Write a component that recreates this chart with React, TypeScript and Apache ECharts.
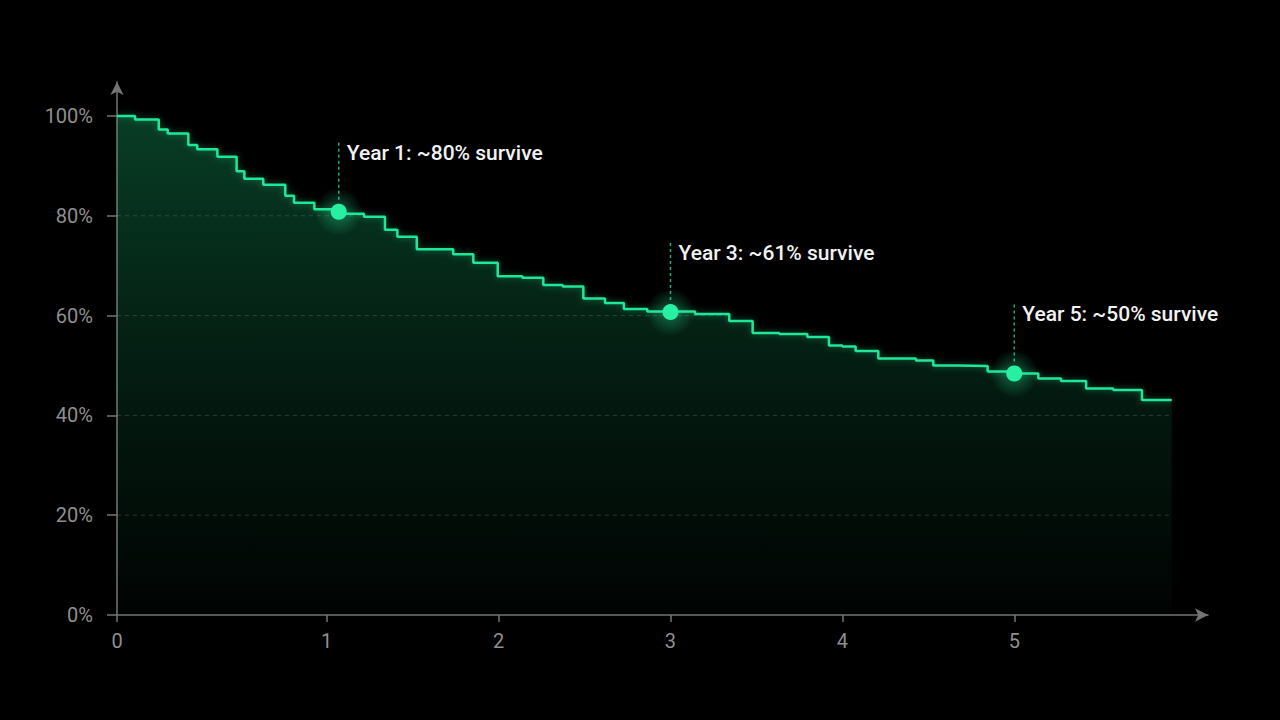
import { useEffect, useRef } from 'react';
import * as echarts from 'echarts';

// Kaplan-Meier style survival steps (time in years, survival in %)
const stepTimes = [
  -0.22, -0.115, 0.023, 0.075, 0.195, 0.247, 0.364, 0.476, 0.521, 0.631,
  0.759, 0.81, 0.928, 1.066, 1.217, 1.339, 1.411, 1.524, 1.736, 1.853,
  1.995, 2.138, 2.26, 2.373, 2.493, 2.619, 2.729, 2.865, 3.143, 3.342,
  3.478, 3.633, 3.796, 3.922, 4.0, 4.077, 4.209, 4.428, 4.529, 4.674,
  4.845, 4.998, 5.14, 5.272, 5.418, 5.576, 5.743,
];
const survival = [
  100, 99.3, 97.3, 96.5, 94.2, 93.3, 91.8, 88.9, 87.4, 86.2,
  84.0, 82.6, 81.3, 80.4, 79.8, 77.2, 75.8, 73.3, 72.3, 70.6,
  67.9, 67.6, 66.1, 65.8, 63.4, 62.5, 61.3, 60.8, 60.3, 58.9,
  56.5, 56.3, 55.7, 54.0, 53.8, 52.9, 51.4, 51.0, 50.0, 49.9,
  48.8, 48.4, 47.4, 46.9, 45.4, 45.1, 43.1,
];
const lastTime = 5.916;

const xMin = -0.22;
const xMax = 6.127;
const xTickValues = [xMin, 1, 2, 3, 4, 5];
const yTickValues = [0, 20, 40, 60, 80, 100];
const gridLevels = [20, 40, 60, 80];

const noteYears = [1.07, 3.0, 5.0];
const noteSurvival = [80.8, 60.7, 48.4];
const noteTexts = ['Year 1: ~80% survive', 'Year 3: ~61% survive', 'Year 5: ~50% survive'];

const GREEN = '#1fe898';
const AXIS = '#747474';

const App: React.FC = () => {
  const chartRef = useRef<HTMLDivElement>(null);

  useEffect(() => {
    if (!chartRef.current) return;
    const chart = echarts.init(chartRef.current, null, { renderer: 'svg' });

    const curve = stepTimes.map((t, i) => [t, survival[i]]);
    curve.push([lastTime, survival[survival.length - 1]]);

    // dashed guides only run while the curve stays above the level
    const guides = gridLevels.map((level) => {
      const idx = survival.findIndex((s) => s < level);
      const end = idx === -1 ? lastTime : stepTimes[idx];
      return [xMin, level, end];
    });

    const notes = noteYears.map((t, i) => [t, noteSurvival[i]]);

    const option: echarts.EChartsOption = {
      animation: false,
      backgroundColor: '#000',
      grid: { left: 117, right: 72, top: 82, bottom: 105 },
      xAxis: {
        type: 'value',
        min: xMin,
        max: xMax,
        axisLine: {
          onZero: false,
          symbol: ['none', 'arrow'],
          symbolSize: [10, 13],
          lineStyle: { color: AXIS, width: 1.5 },
        },
        axisTick: {
          customValues: xTickValues,
          length: 7,
          lineStyle: { color: AXIS, width: 1.5 },
        },
        axisLabel: {
          customValues: xTickValues,
          formatter: (v: number) => (v < 0.5 ? '0' : String(v)),
          color: '#8f8f8f',
          fontSize: 20,
          fontFamily: 'Roboto',
          margin: 16,
        },
        splitLine: { show: false },
      },
      yAxis: {
        type: 'value',
        min: 0,
        max: 106.8,
        axisLine: {
          show: true,
          onZero: false,
          symbol: ['none', 'arrow'],
          symbolSize: [10, 13],
          lineStyle: { color: AXIS, width: 1.5 },
        },
        axisTick: {
          show: true,
          customValues: yTickValues,
          length: 10,
          lineStyle: { color: AXIS, width: 1.5 },
        },
        axisLabel: {
          customValues: yTickValues,
          formatter: '{value}%',
          color: '#8f8f8f',
          fontSize: 20,
          fontFamily: 'Roboto',
          margin: 24,
        },
        splitLine: { show: false },
      },
      series: [
        {
          type: 'custom',
          z: 1,
          silent: true,
          encode: { x: [0, 2], y: 1 },
          data: guides,
          renderItem: (_params: any, api: any) => {
            const p1 = api.coord([api.value(0), api.value(1)]);
            const p2 = api.coord([api.value(2), api.value(1)]);
            return {
              type: 'line',
              shape: { x1: p1[0], y1: p1[1], x2: p2[0], y2: p2[1] },
              style: { stroke: 'rgba(150,170,160,0.25)', lineWidth: 1, lineDash: [4, 4] },
            };
          },
        },
        {
          type: 'line',
          step: 'end',
          z: 3,
          symbol: 'none',
          data: curve,
          lineStyle: {
            color: GREEN,
            width: 2.5,
            shadowBlur: 6,
            shadowColor: 'rgba(31,232,152,0.45)',
          },
          areaStyle: {
            color: new echarts.graphic.LinearGradient(0, 0, 0, 1, [
              { offset: 0, color: 'rgba(26,205,125,0.42)' },
              { offset: 0.5, color: 'rgba(26,205,125,0.2)' },
              { offset: 1, color: 'rgba(26,205,125,0.02)' },
            ]),
          },
        },
        {
          type: 'custom',
          z: 5,
          silent: true,
          data: notes,
          renderItem: (params: any, api: any) => {
            const p = api.coord([api.value(0), api.value(1)]);
            return {
              type: 'group',
              children: [
                {
                  type: 'line',
                  shape: { x1: p[0], y1: p[1] - 12, x2: p[0], y2: p[1] - 70 },
                  style: { stroke: '#1cae78', lineWidth: 1.5, lineDash: [3, 3] },
                },
                {
                  // soft halo around the marker
                  type: 'circle',
                  shape: { cx: p[0], cy: p[1], r: 24 },
                  style: {
                    fill: new echarts.graphic.RadialGradient(0.5, 0.5, 0.5, [
                      { offset: 0, color: 'rgba(40,240,162,0.55)' },
                      { offset: 0.35, color: 'rgba(40,240,162,0.25)' },
                      { offset: 1, color: 'rgba(40,240,162,0)' },
                    ]),
                  },
                },
                {
                  type: 'circle',
                  shape: { cx: p[0], cy: p[1], r: 8 },
                  style: { fill: '#28f0a2' },
                },
                {
                  type: 'text',
                  x: p[0] + 8,
                  y: p[1] - 59,
                  style: {
                    text: noteTexts[params.dataIndex],
                    fill: '#f2f2f2',
                    fontSize: 21,
                    fontWeight: 500,
                    fontFamily: 'Roboto',
                    align: 'left',
                    verticalAlign: 'middle',
                  },
                },
              ],
            };
          },
        },
      ],
    };

    chart.setOption(option);

    return () => {
      chart.dispose();
    };
  }, []);

  return (
    <div
      ref={chartRef}
      style={{
        position: 'fixed',
        left: 0,
        top: 0,
        width: '1280px',
        height: '720px',
        background: '#000',
      }}
    />
  );
};

export default App;
